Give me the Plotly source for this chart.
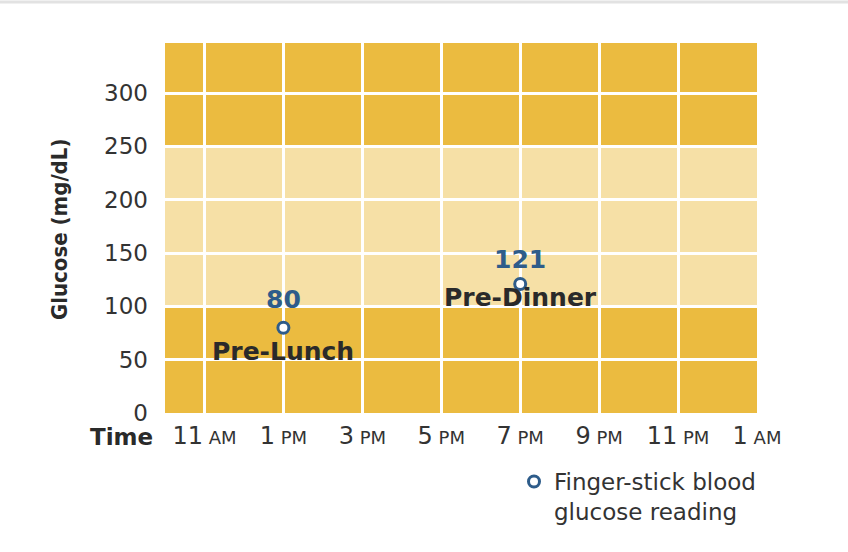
import plotly.graph_objects as go

# ---- data ----
reading_labels = ["Pre-Lunch", "Pre-Dinner"]
reading_hours = [13, 19]          # 1 PM, 7 PM (hours since midnight)
reading_values = [80, 121]

x_tick_vals = [11, 13, 15, 17, 19, 21, 23, 25]
x_tick_nums = ["11", "1", "3", "5", "7", "9", "11", "1"]
x_tick_ampm = ["AM", "PM", "PM", "PM", "PM", "PM", "PM", "AM"]
y_tick_vals = [0, 50, 100, 150, 200, 250, 300]
target_low, target_high = 100, 250

GOLD = "#EBBB40"
LIGHT = "#F6E0A6"
BLUE = "#2E5C8A"
DARK = "#2A2A2A"
FONT = "DejaVu Sans"

ticktext = [f"{n}<span style='font-size:18px'> {a}</span>" for n, a in zip(x_tick_nums, x_tick_ampm)]

fig = go.Figure()
fig.add_trace(go.Scatter(
    x=reading_hours, y=reading_values, mode="markers",
    name="Finger-stick blood<br>glucose reading",
    marker=dict(symbol="circle", size=11, color="white",
                line=dict(color=BLUE, width=3)),
    hoverinfo="skip", showlegend=True,
))

# target band
fig.add_shape(type="rect", xref="paper", x0=0, x1=1, yref="y",
              y0=target_low, y1=target_high, fillcolor=LIGHT,
              line=dict(width=0), layer="below")

# top faint rule
fig.add_shape(type="line", xref="paper", yref="paper",
              x0=-165/592, x1=(848-165)/592, y0=1+41/370, y1=1+41/370,
              line=dict(color="#E2E2E2", width=3))

# value & label annotations
value_shift = [28, 24]
name_shift = [-24, -14]
for h, v, lab, vs, ns in zip(reading_hours, reading_values, reading_labels, value_shift, name_shift):
    fig.add_annotation(x=h, y=v, text=f"<b>{v}</b>", showarrow=False,
                       yshift=vs, font=dict(family=FONT, size=25, color=BLUE))
    fig.add_annotation(x=h, y=v, text=f"<b>{lab}</b>", showarrow=False,
                       yshift=ns, font=dict(family=FONT, size=25, color=DARK))

# axis titles
fig.add_annotation(xref="paper", yref="paper", x=(60-165)/592, y=(413-230)/370,
                   xanchor="center", yanchor="middle",
                   text="<b>Glucose (mg/dL)</b>", textangle=-90, showarrow=False,
                   font=dict(family="Liberation Sans Narrow, DejaVu Sans Condensed, Arial Narrow",
                             size=22, color=DARK))
fig.add_annotation(xref="paper", yref="paper", x=(155-165)/592, y=(413-437)/370,
                   xanchor="right", yanchor="middle",
                   text="<b>Time</b>", showarrow=False,
                   font=dict(family=FONT, size=23, color=DARK))

fig.update_layout(
    width=848, height=552, autosize=False,
    margin=dict(l=165, r=91, t=43, b=139, pad=0),
    paper_bgcolor="white", plot_bgcolor=GOLD,
    font=dict(family=FONT, color="#333333"),
    showlegend=True,
    legend=dict(x=(514-165)/592, y=(413-460)/370, xanchor="left", yanchor="top",
                bgcolor="rgba(0,0,0,0)", font=dict(family=FONT, size=23, color="#333333"),
                valign="top", tracegroupgap=0),
    xaxis=dict(range=[10, 25], tickvals=x_tick_vals, ticktext=ticktext,
               showgrid=True, gridcolor="white", gridwidth=3, zeroline=False,
               showline=False, ticks="", tickfont=dict(family=FONT, size=24, color="#333333"),
               ticklabelstandoff=6, fixedrange=True),
    yaxis=dict(range=[0, 347], tickvals=y_tick_vals,
               showgrid=True, gridcolor="white", gridwidth=3, zeroline=False,
               showline=False, ticks="", tickfont=dict(family=FONT, size=23, color="#333333"),
               ticklabelstandoff=16, fixedrange=True),
)

fig.write_html("out.html")
